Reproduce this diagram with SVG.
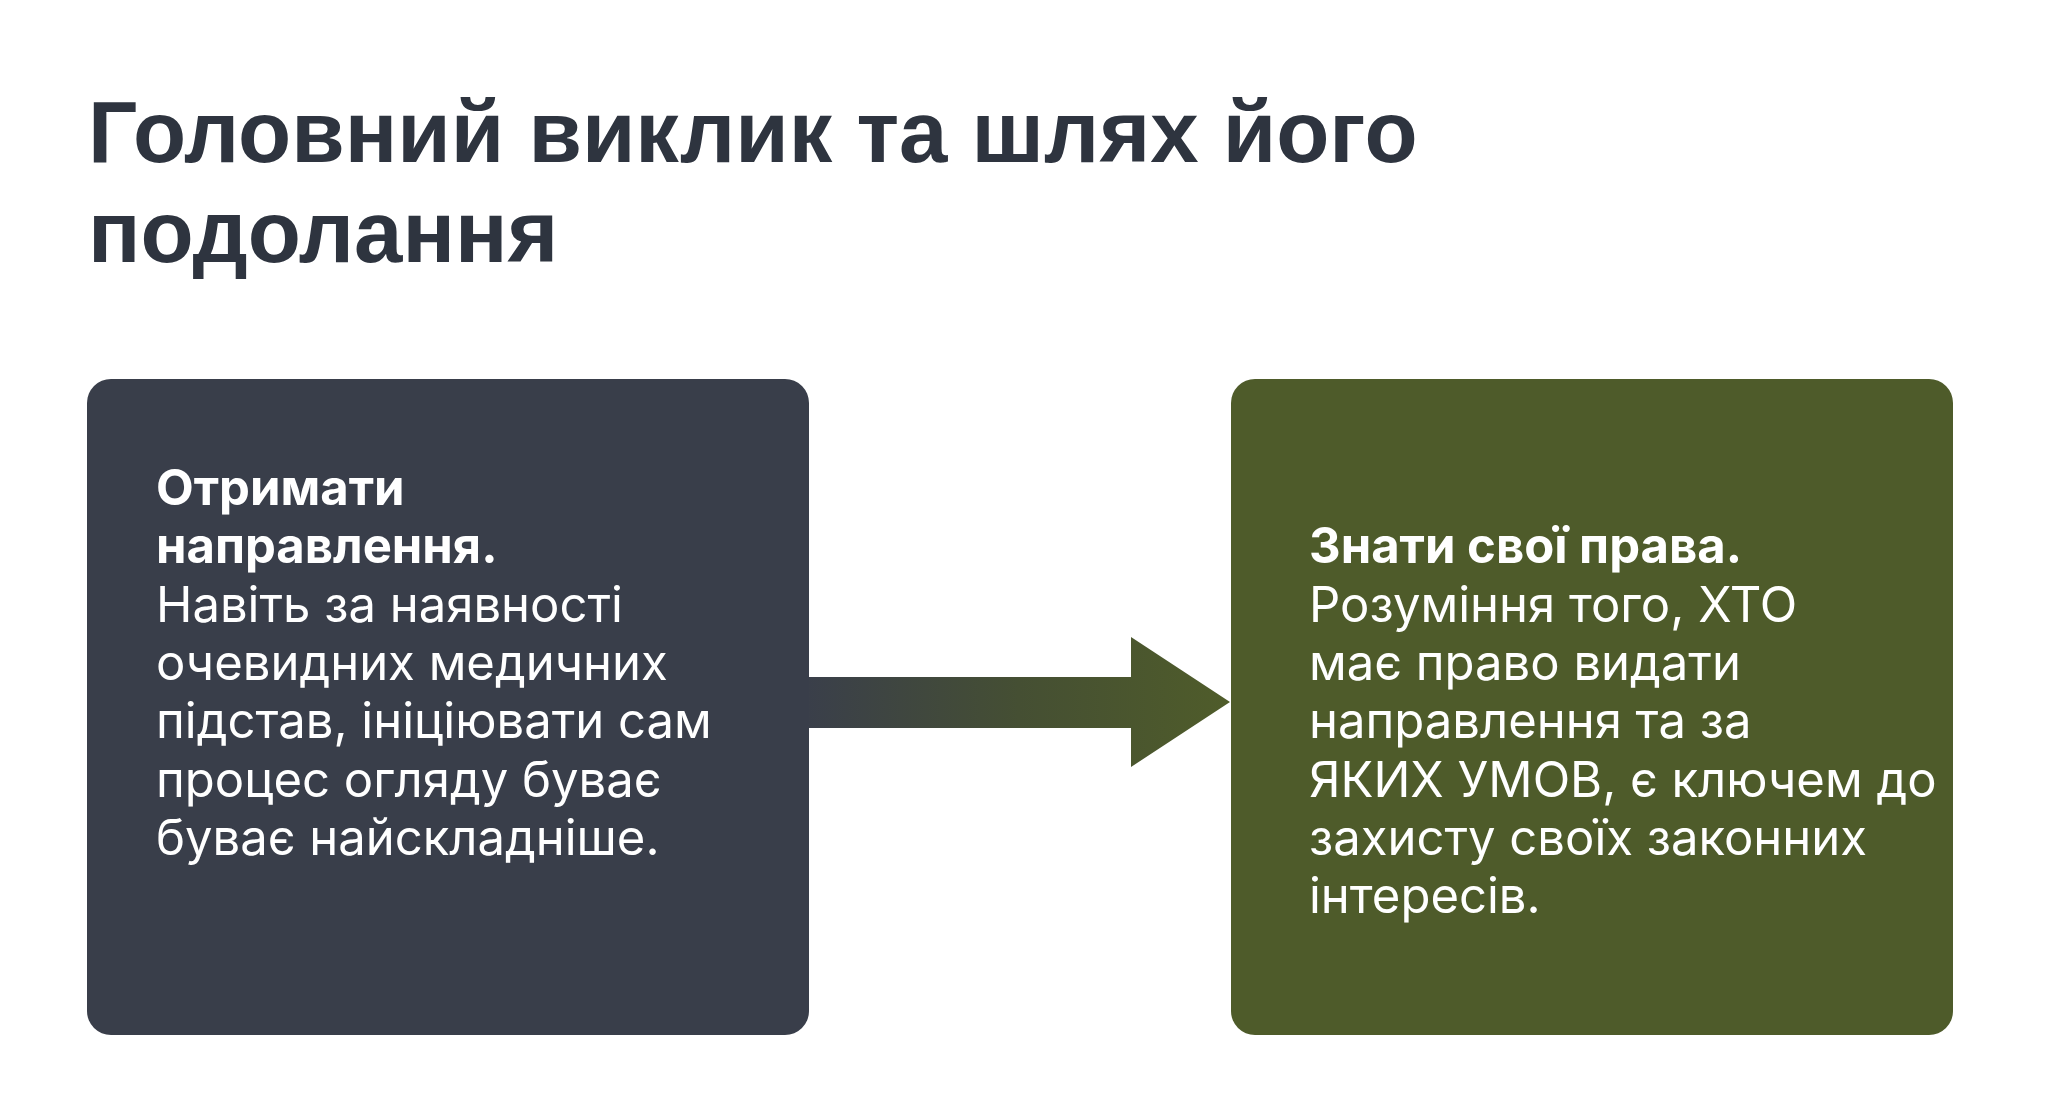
<svg xmlns="http://www.w3.org/2000/svg" width="2048" height="1108" viewBox="0 0 2048 1108">
  <defs>
    <linearGradient id="arrowGrad" x1="808" y1="0" x2="1230" y2="0" gradientUnits="userSpaceOnUse">
      <stop offset="0" stop-color="#3a3f4a"/>
      <stop offset="0.5" stop-color="#454f33"/>
      <stop offset="1" stop-color="#4f5c2a"/>
    </linearGradient>
  </defs>
  <style>
    .title { font-family: "Liberation Sans", Arial, sans-serif; font-weight: 700; font-size: 87px; fill: #2e343f; }
    .body { font-family: Inter, "Noto Sans", sans-serif; font-size: 49px; fill: #ffffff; }
    .bold { font-weight: 700; }
  </style>
  <rect width="2048" height="1108" fill="#ffffff"/>
  <g id="title">
    <text class="title" x="88" y="162">Головний виклик та шлях його</text>
    <text class="title" x="88" y="262">подолання</text>
  </g>
  <g id="connectors">
    <path d="M808 677 H1131 V637 L1230 702 L1131 767 V728 H808 Z" fill="url(#arrowGrad)"/>
  </g>
  <g id="node-left">
    <rect x="87" y="379" width="722" height="656" rx="24" fill="#393e4a"/>
    <text class="body" x="156">
      <tspan class="bold" x="156" y="505">Отримати</tspan>
      <tspan class="bold" x="156" y="563">направлення.</tspan>
      <tspan x="156" y="622">Навіть за наявності</tspan>
      <tspan x="156" y="680">очевидних медичних</tspan>
      <tspan x="156" y="738">підстав, ініціювати сам</tspan>
      <tspan x="156" y="797">процес огляду буває</tspan>
      <tspan x="156" y="855">буває найскладніше.</tspan>
    </text>
  </g>
  <g id="node-right">
    <rect x="1231" y="379" width="722" height="656" rx="24" fill="#4e5b2a"/>
    <text class="body" x="1309">
      <tspan class="bold" x="1309" y="563">Знати свої права.</tspan>
      <tspan x="1309" y="622">Розуміння того, ХТО</tspan>
      <tspan x="1309" y="680">має право видати</tspan>
      <tspan x="1309" y="738">направлення та за</tspan>
      <tspan x="1309" y="797">ЯКИХ УМОВ, є ключем до</tspan>
      <tspan x="1309" y="855">захисту своїх законних</tspan>
      <tspan x="1309" y="913">інтересів.</tspan>
    </text>
  </g>
</svg>
